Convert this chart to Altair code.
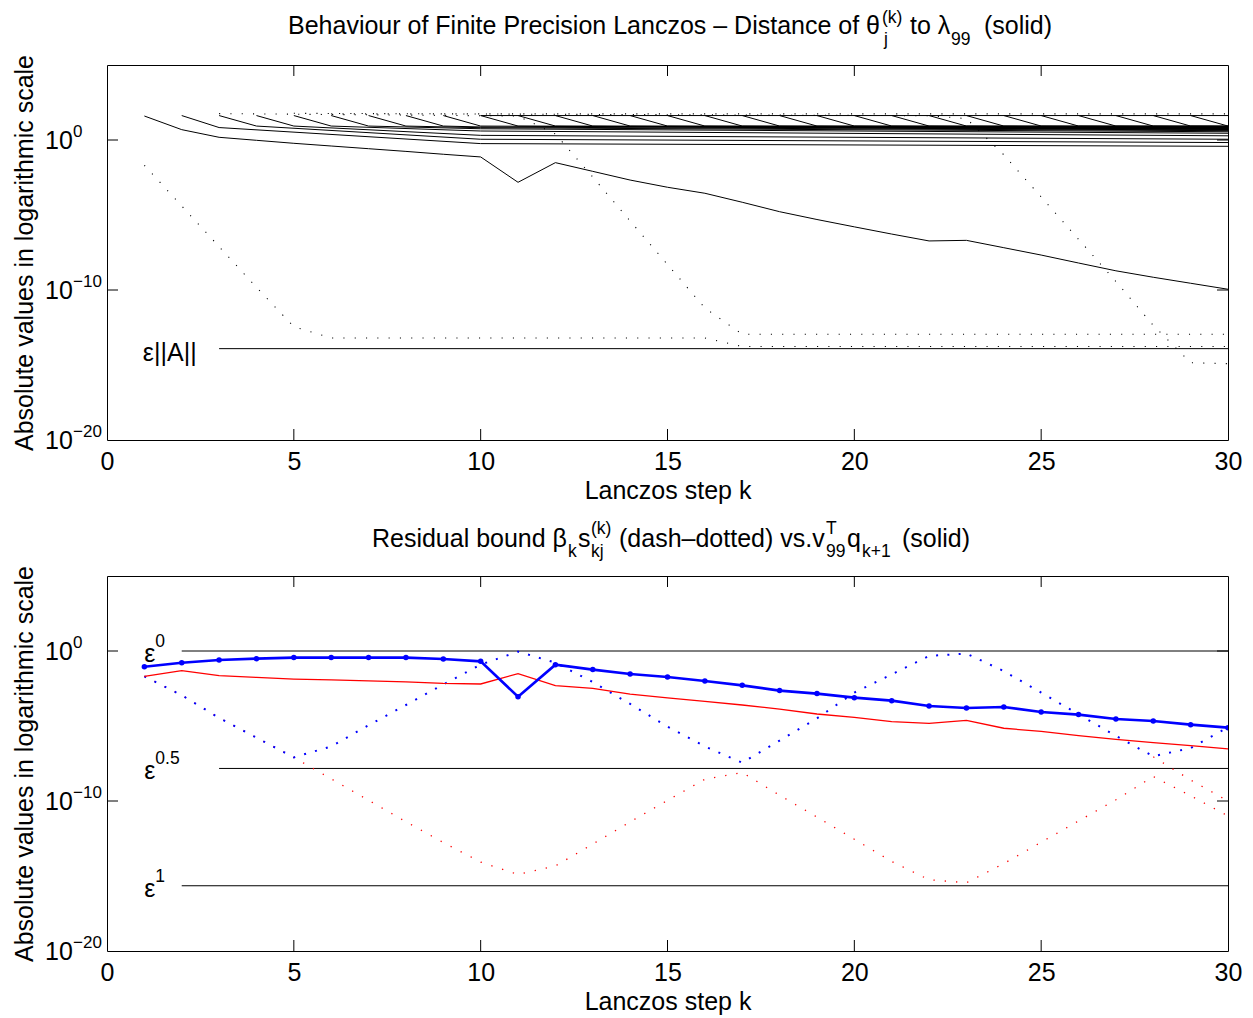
import altair as alt
import pandas as pd

FONT = "Liberation Sans"

# ---------------- TOP PANEL (log10 of distances) ----------------
K = list(range(1, 31))
conv_ritz = [1.60, 0.69, 0.18, -0.02, -0.22, -0.40, -0.58, -0.76, -0.95, -1.13,
             -2.82, -1.51, -2.09, -2.67, -3.15, -3.55, -4.15, -4.78, -5.30, -5.79,
             -6.27, -6.73, -6.69, -7.18, -7.67, -8.20, -8.72, -9.15, -9.55, -9.95]

# other Ritz values: start step, value at start, value one step later,
# value at step 10 (early ones only) and value at step 30
cl_start = [2, 3, 4, 5, 6, 7, 8, 9, 10, 11, 12, 13, 14, 15,
            16, 17, 18, 19, 20, 21, 22, 23, 24, 25, 26, 27, 28, 29]
cl_first = [1.63, 1.63, 1.63, 1.63, 1.63, 1.63, 1.63, 1.63, 1.63, 1.63, 1.63, 1.63, 1.63, 1.63,
            1.63, 1.63, 1.63, 1.63, 1.63, 1.63, 1.63, 1.63, 1.63, 1.63, 1.63, 1.63, 1.63, 1.63]
cl_next = [0.83, 0.93, 0.93, 0.93, 0.93, 0.93, 0.93, 0.93, 0.93, 0.93, 0.93, 0.93, 0.93, 0.93,
           0.93, 0.93, 0.93, 0.93, 0.93, 0.93, 0.93, 0.93, 0.93, 0.93, 0.93, 0.93, 0.93, 0.93]
cl_k10 = [-0.24, 0.05, 0.31, 0.60, 0.75, 0.82, 0.87, None, None, None, None, None, None, None,
          None, None, None, None, None, None, None, None, None, None, None, None, None, None]
cl_end = [-0.42, -0.17, 0.05, 0.28, 0.45, 0.55, 0.62, 0.66, 0.70, 0.72, 0.75, 0.77, 0.79, 0.80,
          0.82, 0.83, 0.84, 0.85, 0.86, 0.87, 0.88, 0.89, 0.90, 0.90, 0.91, 0.92, 0.93, 0.93]

top_solid_k = [10, 30]
top_solid_v = [1.63, 1.63]

eps_normA_k = [3, 30]
eps_normA_v = [-13.91, -13.91]

dot1_k = [1, 2, 3, 4, 5, 6, 16, 17, 30]
dot1_v = [-1.69, -4.40, -7.11, -9.82, -12.45, -13.20, -13.20, -13.77, -13.77]
dot2_k = [3, 11, 12, 13, 14, 15, 16, 17, 30]
dot2_v = [1.76, 1.60, 0.40, -2.47, -5.40, -8.30, -11.20, -12.95, -12.95]
dot3_k = [5, 22, 23, 24, 25, 26, 27, 28, 29, 30]
dot3_v = [1.78, 1.62, 1.43, -0.99, -3.80, -6.62, -9.43, -12.36, -14.85, -14.91]
dot4_k = [6, 30]
dot4_v = [1.74, 1.74]

# ---------------- BOTTOM PANEL (log10) ----------------
blue_solid = [-1.05, -0.78, -0.60, -0.51, -0.44, -0.44, -0.44, -0.44, -0.53, -0.69,
              -3.05, -0.91, -1.24, -1.53, -1.73, -2.00, -2.29, -2.64, -2.84, -3.11,
              -3.31, -3.67, -3.80, -3.73, -4.07, -4.24, -4.53, -4.67, -4.91, -5.11]
red_solid = [-1.69, -1.31, -1.64, -1.76, -1.87, -1.93, -1.99, -2.06, -2.16, -2.20,
             -1.51, -2.31, -2.49, -2.87, -3.13, -3.36, -3.60, -3.87, -4.20, -4.42,
             -4.71, -4.82, -4.62, -5.15, -5.36, -5.64, -5.89, -6.11, -6.31, -6.53]
blue_dotted = [-1.69, -2.95, -4.46, -5.78, -7.09, -6.36, -4.95, -3.60, -2.23, -0.91,
               -0.04, -0.78, -2.07, -3.53, -5.04, -6.36, -7.45, -5.97, -4.49, -2.77,
               -1.56, -0.33, -0.17, -1.34, -2.77, -4.22, -5.66, -7.02, -6.47, -5.08]
red_dotted = [-1.69, -2.95, -4.46, -5.78, -7.10, -8.52, -9.95, -11.38, -12.77, -14.07,
              -14.90, -14.33, -12.87, -11.39, -9.96, -8.55, -8.10, -9.62, -11.07, -12.55,
              -14.03, -15.25, -15.45, -14.17, -12.75, -11.33, -9.92, -8.37, -9.65, -11.00]
red_dotted2_k = [28, 29, 30]
red_dotted2_v = [-7.05, -8.60, -10.00]

eps_level = [0.0, -7.83, -15.65]
eps_from = [2, 3, 2]
eps_exp = ["0", "0.5", "1"]

ytick_val = [1.0, 1e-10, 1e-20]
ytick_exp = ["0", "\u221210", "\u221220"]
xtick_val = [5, 10, 15, 20, 25]

# ---------------- helpers ----------------
W, H = 1121, 375
L0 = 107  # page x of the plot's left edge (used only to place title pieces)
xsc = alt.Scale(domain=[0, 30], nice=False, zero=False)
ysc = alt.Scale(type="log", domain=[1e-20, 1e5], nice=False)
XA = alt.Axis(values=[0, 5, 10, 15, 20, 25, 30], format="d", labelFont=FONT,
              labelFontSize=25, labelColor="black", labelPadding=9,
              labelFlush=False, ticks=False, domain=False, grid=False,
              title="Lanczos step k", titleFont=FONT, titleFontSize=25,
              titleFontWeight="normal", titleColor="black", titlePadding=4)
YA = alt.Axis(labels=False, ticks=False, domain=False, grid=False,
              title="Absolute values in logarithmic scale", titleFont=FONT,
              titleFontSize=25, titleFontWeight="normal", titleColor="black",
              titlePadding=70)


def XE():
    return alt.X("k:Q", scale=xsc, axis=XA)


def YE():
    return alt.Y("y:Q", scale=ysc, axis=YA)


def long_df(series):
    rows = []
    for name, ks, vs in series:
        for k, v in zip(ks, vs):
            rows.append({"id": name, "k": k, "y": 10.0 ** v})
    return pd.DataFrame(rows)


def lines(df, color, width, dash=None, point=None):
    kw = dict(color=color, strokeWidth=width, clip=True)
    if dash is not None:
        kw["strokeDash"] = dash
    if point is not None:
        kw["point"] = point
    return alt.Chart(df).mark_line(**kw).encode(x=XE(), y=YE(), detail="id:N")


def txt(s, px, y, size=25, align="left"):
    return alt.Chart(pd.DataFrame({"a": [0]})).mark_text(
        text=s, font=FONT, fontSize=size, align=align, baseline="alphabetic", color="black"
    ).encode(x=alt.value(px - L0), y=alt.value(y))


def frame_ticks():
    xt = pd.DataFrame({"k": xtick_val})
    yt = pd.DataFrame({"y": ytick_val[:2]})
    r = dict(color="black", strokeWidth=1)
    b = alt.Chart(xt).mark_rule(**r).encode(x=XE(), y=alt.value(H), y2=alt.value(H - 11))
    t = alt.Chart(xt).mark_rule(**r).encode(x=XE(), y=alt.value(0), y2=alt.value(11))
    l = alt.Chart(yt).mark_rule(**r).encode(y=YE(), x=alt.value(0), x2=alt.value(11))
    rr = alt.Chart(yt).mark_rule(**r).encode(y=YE(), x=alt.value(W - 11), x2=alt.value(W))
    return [b, t, l, rr]


def ytick_labels():
    df = pd.DataFrame({"y": ytick_val, "base": ["10", "10", "10"], "e": ytick_exp})
    base = alt.Chart(df).mark_text(font=FONT, fontSize=25, align="left",
                                   baseline="alphabetic", dy=9, color="black").encode(
        x=alt.value(-62), y=YE(), text="base:N")
    ex = alt.Chart(df).mark_text(font=FONT, fontSize=17, align="left",
                                 baseline="alphabetic", dy=-3, color="black").encode(
        x=alt.value(-34), y=YE(), text="e:N")
    return [base, ex]


# ---------------- top panel ----------------
top_series = [("conv", K, conv_ritz), ("topsolid", top_solid_k, top_solid_v),
              ("epsA", eps_normA_k, eps_normA_v)]
for i, s in enumerate(cl_start):
    ks = [s, s + 1]
    vs = [cl_first[i], cl_next[i]]
    if cl_k10[i] is not None:
        ks.append(10)
        vs.append(cl_k10[i])
    if s + 1 < 30:
        ks.append(30)
        vs.append(cl_end[i])
    top_series.append((f"c{s}", ks, vs))
top_solid_df = long_df(top_series)
top_dot_df = long_df([("d1", dot1_k, dot1_v), ("d2", dot2_k, dot2_v),
                      ("d3", dot3_k, dot3_v), ("d4", dot4_k, dot4_v)])

epsA_lab = alt.Chart(pd.DataFrame({"k": [0.96], "y": [10 ** eps_normA_v[0]]})).mark_text(
    text="\u03b5||A||", font=FONT, fontSize=25, align="left", baseline="alphabetic",
    dy=12, color="black").encode(x=XE(), y=YE())

top_title = [
    txt("Behaviour of Finite Precision Lanczos \u2013 Distance of \u03b8", 880, -30.7, 25, "right"),
    txt("(k)", 882, -42, 17.5),
    txt("j", 884, -20.5, 17.5),
    txt("to \u03bb", 910, -30.7, 25),
    txt("99", 951, -20.5, 17.5),
    txt("(solid)", 984, -30.7, 25),
]

top = alt.layer(
    lines(top_solid_df, "black", 1),
    lines(top_dot_df, "black", 1.1, dash=[1.1, 10.2]),
    epsA_lab,
    *frame_ticks(),
    *ytick_labels(),
    *top_title,
).properties(width=W, height=H)

# ---------------- bottom panel ----------------
eps_df = long_df([(f"e{i}", [eps_from[i], 30], [eps_level[i], eps_level[i]]) for i in range(3)])
reddot_df = long_df([("rd1", K, red_dotted), ("rd2", red_dotted2_k, red_dotted2_v)])
bluedot_df = long_df([("bd", K, blue_dotted)])
redsol_df = long_df([("rs", K, red_solid)])
bluesol_df = long_df([("bs", K, blue_solid)])

eps_lab_df = pd.DataFrame({"k": [1.0, 1.0, 1.0], "y": [10 ** v for v in eps_level], "e": eps_exp})
eps_lab = alt.Chart(eps_lab_df).mark_text(text="\u03b5", font=FONT, fontSize=25, align="left",
                                         baseline="alphabetic", dy=11, color="black").encode(
    x=XE(), y=YE())
eps_exp_lab = alt.Chart(eps_lab_df).mark_text(font=FONT, fontSize=17.5, align="left",
                                             baseline="alphabetic", dx=11, dy=-4,
                                             color="black").encode(x=XE(), y=YE(), text="e:N")

bot_title = [
    txt("Residual bound \u03b2", 567, -29, 25, "right"),
    txt("k", 568, -19, 17.5),
    txt("s", 578, -29, 25),
    txt("(k)", 591, -42, 17.5),
    txt("kj", 591, -19, 17.5),
    txt("(dash\u2013dotted) vs.v", 619, -29, 25),
    txt("T", 826, -42, 17.5),
    txt("99", 826, -19, 17.5),
    txt("q", 847, -29, 25),
    txt("k+1", 862, -19, 17.5),
    txt("(solid)", 902, -29, 25),
]

bottom = alt.layer(
    lines(eps_df, "black", 1),
    lines(reddot_df, "#ff0000", 1.3, dash=[1.3, 10]),
    lines(bluedot_df, "#0000ff", 2.0, dash=[2.0, 9.3]),
    lines(redsol_df, "#ff0000", 1.3),
    lines(bluesol_df, "#0000ff", 2.6,
          point=alt.OverlayMarkDef(filled=True, size=30, color="#0000ff")),
    eps_lab, eps_exp_lab,
    *frame_ticks(),
    *ytick_labels(),
    *bot_title,
).properties(width=W, height=H)

chart = alt.vconcat(top, bottom, spacing=136, bounds="flush").properties(
    padding={"left": 3, "top": 0, "right": 0, "bottom": 0}
).configure(font=FONT).configure_view(stroke="black", strokeWidth=1)

chart.save("out.html", embed_options={"renderer": "svg", "actions": False})
